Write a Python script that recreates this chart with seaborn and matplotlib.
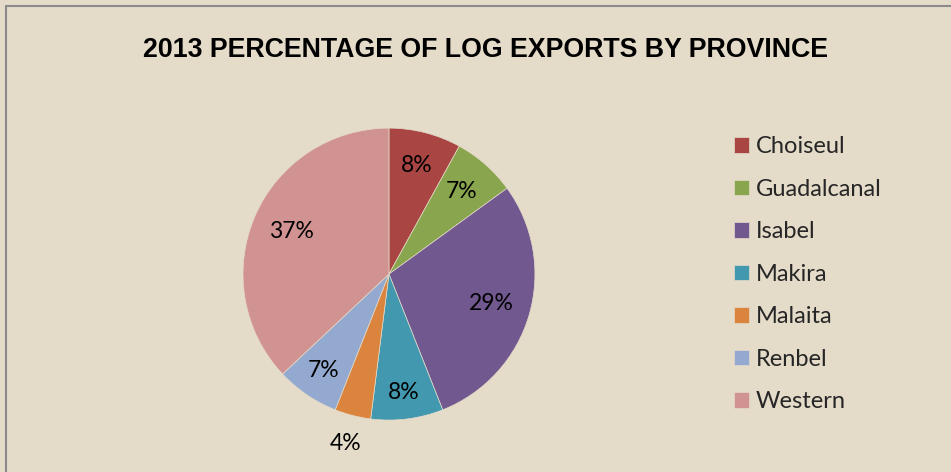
import matplotlib
matplotlib.use('Agg')
import matplotlib.pyplot as plt
import numpy as np
import seaborn as sns
from matplotlib.patches import Rectangle

sns.set_theme(style='white')
plt.rcParams['font.family'] = ['Lato', 'DejaVu Sans']

provinces = ['Choiseul', 'Guadalcanal', 'Isabel', 'Makira', 'Malaita', 'Renbel', 'Western']
share = [8, 7, 29, 8, 4, 7, 37]
colors = ['#A94643', '#89A54E', '#71588F', '#4198AF', '#DB843D', '#93A9CF', '#D19392']
bg = '#E4DBC9'

# how far from the centre each percentage label sits (Excel "best fit")
label_radius = [0.765, 0.755, 0.733, 0.82, 1.2, 0.80, 0.73]

fig = plt.figure(figsize=(9.51, 4.72), dpi=100, facecolor=bg)
fig.patches.append(Rectangle((0.006, -0.01), 1.1, 0.998, transform=fig.transFigure,
                             fill=False, edgecolor='#8A8A8A', linewidth=1.5))

fig.text(0.51, 0.895, '2013 PERCENTAGE OF LOG EXPORTS BY PROVINCE', ha='center', va='center',
         fontsize=19.3, fontweight='bold', family='Liberation Sans', color='black')

ax = fig.add_axes([0.2555, 0.110, 0.307, 0.6186])
ax.set_facecolor(bg)
wedges, texts, autotexts = ax.pie(share, colors=colors, startangle=90, counterclock=False,
                                  autopct='%1.0f%%', pctdistance=0.73, frame=False,
                                  wedgeprops=dict(linewidth=0.5, edgecolor='#E4DBC9'),
                                  textprops=dict(fontsize=16.5, color='black'))
ax.set_xlim(-1, 1)
ax.set_ylim(-1, 1)
ax.set_aspect('equal')
ax.axis('off')

for w, t, r in zip(wedges, autotexts, label_radius):
    mid = np.deg2rad((w.theta1 + w.theta2) / 2)
    t.set_position((r * np.cos(mid), r * np.sin(mid)))

leg = fig.legend(wedges, provinces, loc='upper left', bbox_to_anchor=(0.749, 0.756),
                 frameon=False, fontsize=17, handlelength=0.64, handleheight=0.64,
                 handletextpad=0.3, labelspacing=0.91)

fig.savefig('out.png', dpi=100, facecolor=bg)
